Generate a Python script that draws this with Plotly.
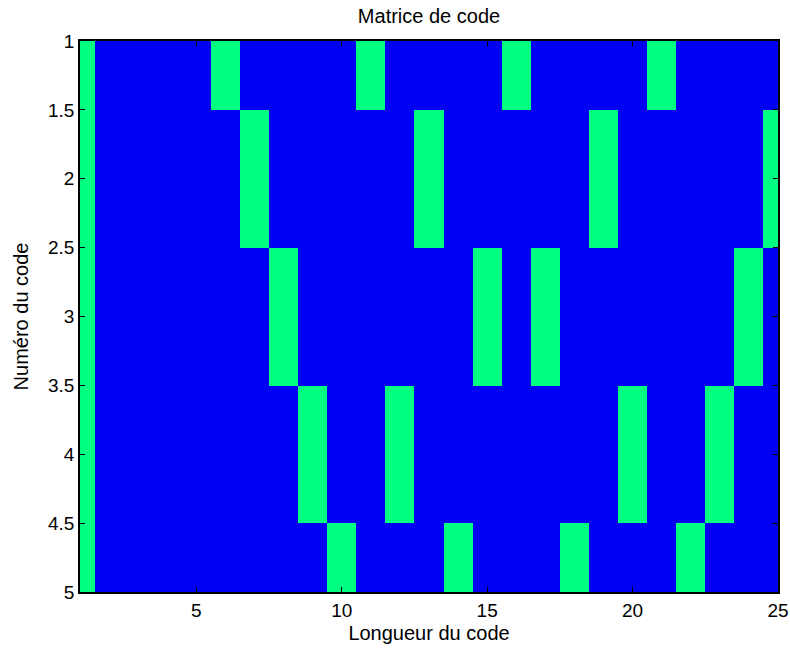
import plotly.graph_objects as go

# code matrix: 5 codes x 25 chips (1 = green, 0 = blue)
code_length = list(range(1, 26))
code_number = [1, 2, 3, 4, 5]
green_cols = [
    [1, 6, 11, 16, 21],
    [1, 7, 13, 19, 25],
    [1, 8, 15, 17, 24],
    [1, 9, 12, 20, 23],
    [1, 10, 14, 18, 22],
]
z = [[1 if c in row else 0 for c in code_length] for row in green_cols]

x_ticks = [5, 10, 15, 20, 25]
y_ticks = [1, 1.5, 2, 2.5, 3, 3.5, 4, 4.5, 5]

fig = go.Figure(go.Heatmap(
    x=code_length, y=code_number, z=z,
    zmin=0, zmax=1,
    colorscale=[[0, '#0000F2'], [0.5, '#0000F2'], [0.5, '#00FF80'], [1, '#00FF80']],
    showscale=False,
))

axis_style = dict(showline=True, linecolor='black', linewidth=1.5, mirror='ticks',
                  ticks='inside', ticklen=5, tickcolor='black',
                  showgrid=False, zeroline=False, automargin=False,
                  tickfont=dict(size=19, color='black'))

fig.update_xaxes(range=[1, 25], tickvals=x_ticks,
                 title=dict(text='Longueur du code', font=dict(size=20, color='black'), standoff=6),
                 **axis_style)
fig.update_yaxes(range=[5, 1], tickvals=y_ticks,
                 ticktext=[('%g' % v) for v in y_ticks],
                 title=dict(text='Numéro du code', font=dict(size=20, color='black'), standoff=14),
                 **axis_style)

fig.update_layout(
    width=790, height=648,
    margin=dict(l=80, r=12, t=41, b=56),
    plot_bgcolor='white', paper_bgcolor='white',
    font=dict(family='Liberation Sans, Arial, sans-serif', color='black'),
    title=dict(text='Matrice de code', x=0.5, xref='paper', xanchor='center',
               y=1 - 16 / 648, yanchor='middle',
               font=dict(size=20, color='black')),
)

fig.write_html("out.html", config={'displayModeBar': False},
               post_script="document.body.style.margin='0';")
